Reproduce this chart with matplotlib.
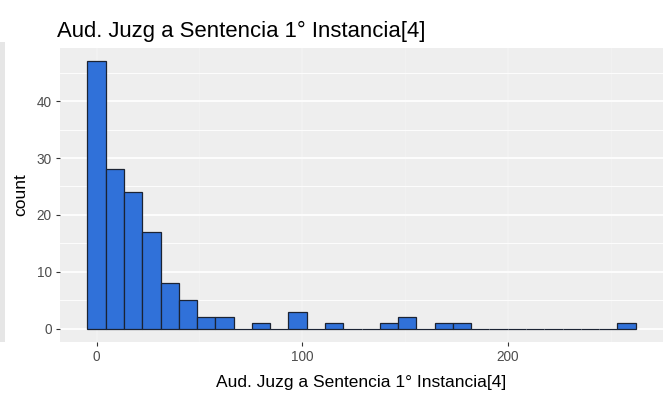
import matplotlib
matplotlib.use("Agg")
import matplotlib.pyplot as plt
from matplotlib.patches import Rectangle

plt.rcParams['font.family'] = ['Liberation Sans', 'DejaVu Sans']

# Histogram of days between hearing and first-instance sentence
title = "Aud. Juzg a Sentencia 1° Instancia[4]"
x_label = "Aud. Juzg a Sentencia 1° Instancia[4]"
y_label = "count"
bin_width = 8.88
counts = [47, 28, 24, 17, 8, 5, 2, 2, 0, 1,
          0, 3, 0, 1, 0, 0, 1, 2, 0, 1,
          1, 0, 0, 0, 0, 0, 0, 0, 0, 1]
x_ticks = [0, 100, 200]
y_ticks = [0, 10, 20, 30, 40]

W, H = 670, 396
fig = plt.figure(figsize=(W / 100, H / 100), dpi=100)
fig.patch.set_facecolor('white')

# light sidebar strip at the left edge
fig.patches.append(Rectangle((0, 1 - 342 / H), 5 / W, 300 / H, transform=fig.transFigure,
                             facecolor='#E6E6E6', edgecolor='none', zorder=0))

ax = fig.add_axes([60 / W, 1 - 342 / H, 603 / W, 294 / H])
ax.set_facecolor('#EEEEEE')

centers = [i * bin_width for i in range(len(counts))]
ax.bar(centers, counts, width=bin_width, align='center', color='#3071D9',
       edgecolor='#1B2333', linewidth=0.9, zorder=3)

# ggplot-style expansion of 5% on both axes
lo, hi = centers[0] - bin_width / 2, centers[-1] + bin_width / 2
pad = 0.05 * (hi - lo)
ax.set_xlim(lo - pad, hi + pad)
ymax = max(counts)
ax.set_ylim(-0.05 * ymax, ymax * 1.05)

# grid: white major and minor lines
for y in y_ticks:
    ax.axhline(y, color='white', linewidth=1.2, zorder=1)
for y in [v + 5 for v in y_ticks]:
    ax.axhline(y, color='white', linewidth=0.6, zorder=1)
for x in x_ticks:
    ax.axvline(x, color='white', linewidth=1.2, alpha=0.25, zorder=1)
for x in [50, 150, 250]:
    ax.axvline(x, color='white', linewidth=0.6, alpha=0.25, zorder=1)

ax.set_xticks(x_ticks)
ax.set_yticks(y_ticks)
ax.tick_params(axis='both', length=3, width=0.8, color='#333333',
               labelcolor='#4D4D4D', labelsize=9.8, pad=3)
for s in ax.spines.values():
    s.set_visible(False)

ax.set_xlabel(x_label, fontsize=12.5, color='black', labelpad=8)
ax.set_ylabel(y_label, fontsize=12.5, color='black', labelpad=6)

fig.text(57 / W, 1 - 31 / H, title, fontsize=15.9, color='black', ha='left', va='center')

fig.savefig('out.png', dpi=100, facecolor='white')
